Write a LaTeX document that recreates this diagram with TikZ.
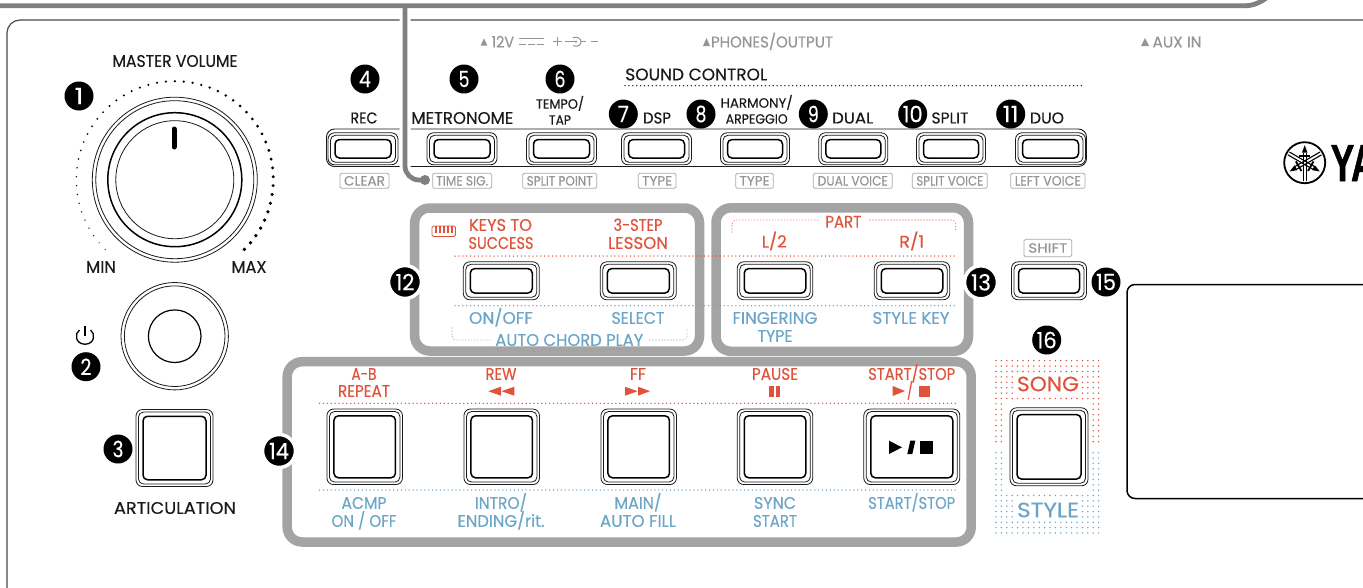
\documentclass[tikz,border=0pt]{standalone}
\usepackage{fontspec}
\usepackage{graphicx}
\setmainfont[FakeBold=0.3]{Poppins}
\newfontfamily\logofont[FakeBold=1.2]{Liberation Sans}
\definecolor{ink}{HTML}{1A1A1A}
\definecolor{redl}{HTML}{E0533A}
\definecolor{bluel}{HTML}{6BA6C8}
\definecolor{greyl}{HTML}{959595}
\definecolor{boxg}{HTML}{A3A4A3}
\definecolor{barg}{HTML}{808080}
\definecolor{panelc}{HTML}{4A4A4A}
\newsavebox\fitbox
\newcounter{tc}
\newcommand\fit[3]{\pgfmathsetmacro\fitfs{#2*1.12}\sbox\fitbox{\fontsize{\fitfs}{\fitfs}\selectfont #3}\pgfmathsetmacro\fitr{#1/\the\wd\fitbox}\scalebox{\fitr}[1]{\usebox\fitbox}}
% colour, x, y, width, size, text
\newcommand\lbl[6][ink]{\stepcounter{tc}\node[text=#1,inner sep=0pt,anchor=base] (t\arabic{tc}) at (#2,{#3+0.39*#5}) {\fit{#4}{#5}{#6}};}
% x1 x2 y1 y2 textwidth text
\newcommand\fr[6]{\stepcounter{tc}\node[framelbl,minimum width={#2-#1},minimum height={#4-#3}] (t\arabic{tc}) at ({(#1+#2)/2},{(#3+#4)/2}) {\fit{#5}{12}{#6}};}
% name x y digits digitwidth
\newcommand\badge[5]{\node[badgestyle] (#1) at (#2,#3) {\fit{#5}{20}{#4}};}
\newcommand\hbadge[5]{\node[badgestyle,draw=white,line width=3.5pt,minimum size=33pt] (#1) at (#2,#3) {\fit{#5}{20}{#4}};}
% name x y w h
\newcommand\btn[5]{%
\node[btno,minimum width=#4,minimum height=#5] (#1) at (#2,#3) {};
\node[btno,minimum width={#4-5},minimum height={#5-5},rounded corners=5] (#1m) at (#1) {};
\node[btni,minimum width={#4-14},minimum height={#5-13.5}] (#1i) at (#1) {};}
\tikzset{
 btno/.style={draw=ink,fill=white,line width=.8pt,rounded corners=6.5,inner sep=0pt},
 btni/.style={draw=black,fill=white,line width=1.5pt,rounded corners=4.5,inner sep=0pt},
 framelbl/.style={draw=greyl!80,line width=.8pt,rounded corners=1.5,inner sep=0pt,text=greyl},
 badgestyle/.style={circle,fill=black,minimum size=29pt,inner sep=0pt,text=white},
 dotline/.style={line cap=round,dash pattern=on 0pt off 3.9pt,line width=1.5pt},
 brkline/.style={line width=1.2pt,dash pattern=on 0pt off 3pt,line cap=round,rounded corners=4},
 grpbox/.style={draw=boxg,line width=9.5pt,rounded corners=15},
}
\begin{document}
\begin{tikzpicture}[x=1pt,y=-1pt]
\useasboundingbox (0,0) rectangle (1363,587);
\clip (0,0) rectangle (1363,587);
\fill[white] (0,0) rectangle (1363,587);
% panel
\draw[panelc,line width=1.2pt,rounded corners=13] (7,600) -- (7,20) -- (1375,20);
% top row frame
\draw[ink,line width=.9pt,fill=white,rounded corners=8] (326.5,129) rectangle (1086.5,166.5);
% leader
\coordinate (leadtop) at (405,5);
\coordinate (leadcorner) at (405,180);
\coordinate (leadend) at (425,180);
\draw[white,line width=11pt,rounded corners=14] (leadtop) -- (leadcorner) -- (leadend);
\draw[barg,line width=4.8pt,rounded corners=14] (leadtop) -- (leadcorner) -- (leadend);
\fill[barg] (leadend) circle (5);
\draw[barg,line width=4.8pt,rounded corners=14] (-5,5.7) -- (1260,5.7) -- (1272,-8);
% top labels
\fill[greyl] (480.7,45.7) -- (484,38.3) -- (487.3,45.7) -- cycle;
\lbl[greyl]{502.8}{42}{22.5}{14}{12V}
\draw[greyl,line width=1pt] (519,38.5) -- (544,38.5);
\draw[greyl,line width=1pt,dash pattern=on 6.5pt off 2.5pt] (519,44) -- (544,44);
\draw[greyl,line width=1.1pt] (553,41.7) -- (562,41.7) (557.5,37.2) -- (557.5,46.2);
\draw[greyl,line width=1pt] (564.5,41.7) -- (576,41.7);
\fill[greyl] (576,41.7) circle (1.2);
\draw[greyl,line width=1pt] (573,37.8) .. controls (577,36) and (581,38.5) .. (581,41.7) .. controls (581,45) and (577,47.5) .. (573,45.6);
\draw[greyl,line width=1pt] (581,41.7) -- (586,41.7);
\draw[greyl,line width=1.2pt] (590.7,41.7) -- (598,41.7);
\fill[greyl] (703,46) -- (706.5,38) -- (710,46) -- cycle;
\lbl[greyl]{772}{42}{122}{14}{PHONES/OUTPUT}
\fill[greyl] (1141,46) -- (1145,38) -- (1149,46) -- cycle;
\lbl[greyl]{1177}{42}{49}{14}{AUX IN}
% knob 1
\node[draw=ink,line width=.8pt,circle,minimum size=165pt,inner sep=0pt] (knobA) at (174.8,179.7) {};
\node[draw=ink,line width=.8pt,circle,minimum size=158pt,inner sep=0pt] (knobB) at (knobA) {};
\node[draw=black,line width=1.5pt,circle,minimum size=134pt,inner sep=0pt] (knobC) at (knobA) {};
\node[draw=ink,line width=.8pt,circle,minimum size=118pt,inner sep=0pt] (knobD) at (knobA) {};
\draw[black,line width=5pt,line cap=round] (174,129) -- (174,147);
\foreach \i in {0,...,52}{
 \pgfmathsetmacro\px{174.8+98.5*cos(225-\i*270/52)}
 \pgfmathsetmacro\py{179.7-98.5*sin(225-\i*270/52)}
 \pgfmathsetmacro\rr{0.6+\i/52*1.3}
 \fill[black] (\px,\py) circle (\rr);
}
\lbl{175}{61}{125}{15}{MASTER VOLUME}
\lbl{101}{267}{30}{15}{MIN}
\lbl{249}{267}{35}{15}{MAX}
\badge{bA}{79}{96}{1}{9}
% knob 2
\node[draw=ink,line width=.8pt,circle,minimum size=107.4pt,inner sep=0pt] (knobE) at (174.7,336.2) {};
\node[draw=ink,line width=.8pt,circle,minimum size=100.6pt,inner sep=0pt] (knobF) at (knobE) {};
\node[draw=black,line width=1.2pt,circle,minimum size=52.6pt,inner sep=0pt] (knobG) at (knobE) {};
\draw[black,line width=1.3pt] (79.5,330) .. controls (74.5,333) and (75,344.2) .. (85,344.2) .. controls (95,344.2) and (95.5,333) .. (90.5,330);
\draw[black,line width=1.3pt] (85,326) -- (85,336);
\badge{bB}{86}{366.7}{2}{11}
% button 3
\btn{art}{174.5}{448}{77}{77}
\badge{bC}{118}{449}{3}{11}
\lbl{175}{508}{122}{15}{ARTICULATION}
% top row buttons
\btn{bRec}{363}{148.8}{70}{32}
\btn{bMet}{462}{148.8}{70}{32}
\btn{bTem}{561.5}{148.8}{70}{32}
\btn{bDsp}{656.5}{148.8}{70}{32}
\btn{bHar}{755}{148.8}{69}{32}
\btn{bDua}{853.3}{148.8}{69}{32}
\btn{bSpl}{951}{148.8}{69}{32}
\btn{bDuo}{1050.5}{148.8}{70}{32}
\badge{bD}{365}{79}{4}{12}
\badge{bE}{464}{79}{5}{11}
\badge{bF}{560}{79}{6}{11}
\badge{bG}{623.3}{114}{7}{11}
\badge{bH}{701}{114}{8}{11}
\badge{bI}{813.3}{114}{9}{11}
\badge{bJ}{912.7}{114}{10}{20}
\badge{bK}{1010.7}{114}{11}{16}
\lbl{364}{118}{27}{14}{REC}
\lbl{462.3}{118}{102}{15}{METRONOME}
\lbl{560}{104}{48}{12}{TEMPO/}
\lbl{560}{120}{22}{12}{TAP}
\lbl{657}{118}{28}{14}{DSP}
\lbl{756.7}{103}{72}{12}{HARMONY/}
\lbl{756.7}{119}{62}{12}{ARPEGGIO}
\lbl{852.7}{118}{41}{14}{DUAL}
\lbl{950}{118}{37}{14}{SPLIT}
\lbl{1047}{118}{34}{14}{DUO}
\lbl{696.3}{74.5}{142}{15}{SOUND CONTROL}
\draw[ink,dotline] (625,85.7) -- (1082.7,85.7);
\fr{340}{389}{173.3}{188.3}{41}{CLEAR}
\fr{432.7}{491.7}{173.3}{188.3}{52}{TIME SIG.}
\fr{522.7}{596.7}{173.3}{188.3}{66}{SPLIT POINT}
\fr{638.3}{676}{173.3}{188.3}{30}{TYPE}
\fr{735.7}{773.3}{173.3}{188.3}{30}{TYPE}
\fr{813.3}{892.3}{173.3}{188.3}{70}{DUAL VOICE}
\fr{912.3}{987.3}{173.3}{188.3}{67}{SPLIT VOICE}
\fr{1010.7}{1085}{173.3}{188.3}{66}{LEFT VOICE}
% group boxes
\draw[grpbox] (414.7,208) rectangle (699.5,351);
\draw[grpbox] (716,207.8) rectangle (968.5,351.3);
\draw[grpbox] (287.2,361.7) rectangle (971.2,542);
% dotted guides
\draw[redl,dotline] (455,256) -- (957,256);
\draw[bluel,dotline] (455,305.7) -- (957,305.7);
\draw[redl,dotline] (319.5,403.3) -- (957,403.3);
\draw[bluel,dotline] (319.5,490) -- (957,490);
\draw[bluel,brkline] (452,328) -- (452,340) -- (490,340);
\draw[bluel,brkline] (650,340) -- (687,340) -- (687,328);
\draw[redl,brkline] (732,232) -- (732,220) -- (818,220);
\draw[redl,brkline] (870,220) -- (955.7,220) -- (955.7,232);
% group 12
\btn{bKey}{501.3}{280.8}{76}{38}
\btn{bLes}{638.3}{280.8}{76}{38}
\draw[redl,line width=.9pt,rounded corners=1.5] (432,226) rectangle (455.5,236.5);
\foreach \kx in {436,440,444,448,452}{\draw[redl,line width=1.4pt] (\kx,226) -- (\kx,233);}
\lbl[redl]{500.5}{225}{63}{15}{KEYS TO}
\lbl[redl]{501}{243}{65}{15}{SUCCESS}
\lbl[redl]{638}{225}{49}{15}{3-STEP}
\lbl[redl]{638}{243}{60}{15}{LESSON}
\lbl[bluel]{501}{318}{64}{15}{ON/OFF}
\lbl[bluel]{638}{318}{53}{15}{SELECT}
\lbl[bluel]{569.3}{340}{148}{15}{AUTO CHORD PLAY}
% group 13
\btn{bL}{775}{280.8}{75.5}{38}
\btn{bR}{912}{280.8}{75.5}{38}
\lbl[redl]{843.3}{221.7}{36}{15}{PART}
\lbl[redl]{774.3}{241.7}{25}{15}{L/2}
\lbl[redl]{911.7}{241.7}{25}{15}{R/1}
\lbl[bluel]{775}{318}{85}{15}{FINGERING}
\lbl[bluel]{775}{336}{35}{15}{TYPE}
\lbl[bluel]{911}{318}{77}{15}{STYLE KEY}
% shift
\btn{bSh}{1049}{280.8}{75}{38}
\fr{1024}{1071.7}{239.3}{256.7}{39}{SHIFT}
% group 14
\btn{bAB}{364.7}{446.8}{75.5}{75.5}
\btn{bRw}{501.7}{446.8}{75.5}{75.5}
\btn{bFf}{638.7}{446.8}{75.5}{75.5}
\btn{bPa}{775}{446.8}{75.5}{75.5}
\btn{bSt}{911.8}{446.8}{96}{75.5}
\fill[black] (889,440.7) -- (902,447.3) -- (889,454) -- cycle;
\fill[black] (910.3,440.7) -- (915.3,440.7) -- (912.3,454) -- (907.3,454) -- cycle;
\fill[black] (920,441) rectangle (933.3,454);
\lbl[redl]{364}{374}{25}{15}{A-B}
\lbl[redl]{364}{391}{52}{15}{REPEAT}
\lbl[redl]{501}{374}{31}{15}{REW}
\fill[redl] (488.3,391.2) -- (501,386.7) -- (501,395.7) -- cycle;
\fill[redl] (501.5,391.2) -- (514.3,386.7) -- (514.3,395.7) -- cycle;
\lbl[redl]{638}{374}{16}{15}{FF}
\fill[redl] (625,386.7) -- (637.5,391.2) -- (625,395.7) -- cycle;
\fill[redl] (638,386.7) -- (650,391.2) -- (638,395.7) -- cycle;
\lbl[redl]{775}{374}{46}{15}{PAUSE}
\fill[redl] (769,386) rectangle (773.5,396.5);
\fill[redl] (776,386) rectangle (780,396.5);
\lbl[redl]{911.7}{374}{87}{15}{START/STOP}
\fill[redl] (892.7,386) -- (905,391) -- (892.7,396) -- cycle;
\lbl[redl]{910}{391}{6}{15}{/}
\fill[redl] (919.3,386) rectangle (930,396.5);
\lbl[bluel]{364}{503}{45}{15}{ACMP}
\lbl[bluel]{364}{521}{65}{15}{ON / OFF}
\lbl[bluel]{501}{503}{52}{15}{INTRO/}
\lbl[bluel]{501}{521}{87}{15}{ENDING/rit.}
\lbl[bluel]{638}{503}{47}{15}{MAIN/}
\lbl[bluel]{638}{521}{76}{15}{AUTO FILL}
\lbl[bluel]{775}{503}{42}{15}{SYNC}
\lbl[bluel]{775}{521}{44}{15}{START}
\lbl[bluel]{911.7}{503}{87}{15}{START/STOP}
% badges with halo
\hbadge{bL12}{405}{282}{12}{19}
\hbadge{bL13}{981}{282.3}{13}{20}
\hbadge{bL14}{279}{451}{14}{20}
\badge{bL15}{1106}{282}{15}{20}
\badge{bL16}{1046.7}{340}{16}{20}
% song / style dots
\foreach \ci in {0,...,19}{
 \pgfmathsetmacro\dx{996+5.4*\ci}
 \foreach \cj in {0,...,15}{
  \pgfmathsetmacro\dy{360.7+5.4*\cj}
  \pgfmathsetmacro\dz{452.7+5.35*\cj}
  \fill[redl] (\dx,\dy) circle (.8);
  \fill[bluel] (\dx,\dz) circle (.8);
 }
}
\fill[white] (1014,373) rectangle (1081,394);
\fill[white] (1014,500) rectangle (1081,521);
\fill[white] (1005,402) rectangle (1092,491);
\lbl[redl]{1048}{384}{62}{18.5}{SONG}
\lbl[bluel]{1048}{510}{62}{18.5}{STYLE}
\btn{bSo}{1049}{446.8}{78}{78}
% display
\draw[black,line width=1.5pt,rounded corners=8] (1400,284.5) -- (1127,284.5) -- (1127,498.5) -- (1400,498.5);
% logo
\node[draw=black,line width=1.8pt,circle,minimum size=41pt,inner sep=0pt] (logo) at (1304.7,162.7) {};
\foreach \a in {0,120,240}{
 \begin{scope}[shift={(1304.7,162.7)},rotate=\a]
 \draw[black,line width=1.1pt] (-1.6,-10) -- (-1.6,18.5);
 \draw[black,line width=1.1pt] (1.6,-10) -- (1.6,18.5);
 \fill[black] (-2.8,-10) -- (0,-17.5) -- (2.8,-10) -- cycle;
 \draw[black,line width=1.8pt] (-5.5,-7) -- (5.5,-7);
 \end{scope}
}
\node[anchor=base west,inner sep=0pt,text=black] (yam) at (1330.5,181) {\logofont\bfseries\fontsize{52}{52}\selectfont\scalebox{.68}[1]{YA}};
\end{tikzpicture}
\end{document}
